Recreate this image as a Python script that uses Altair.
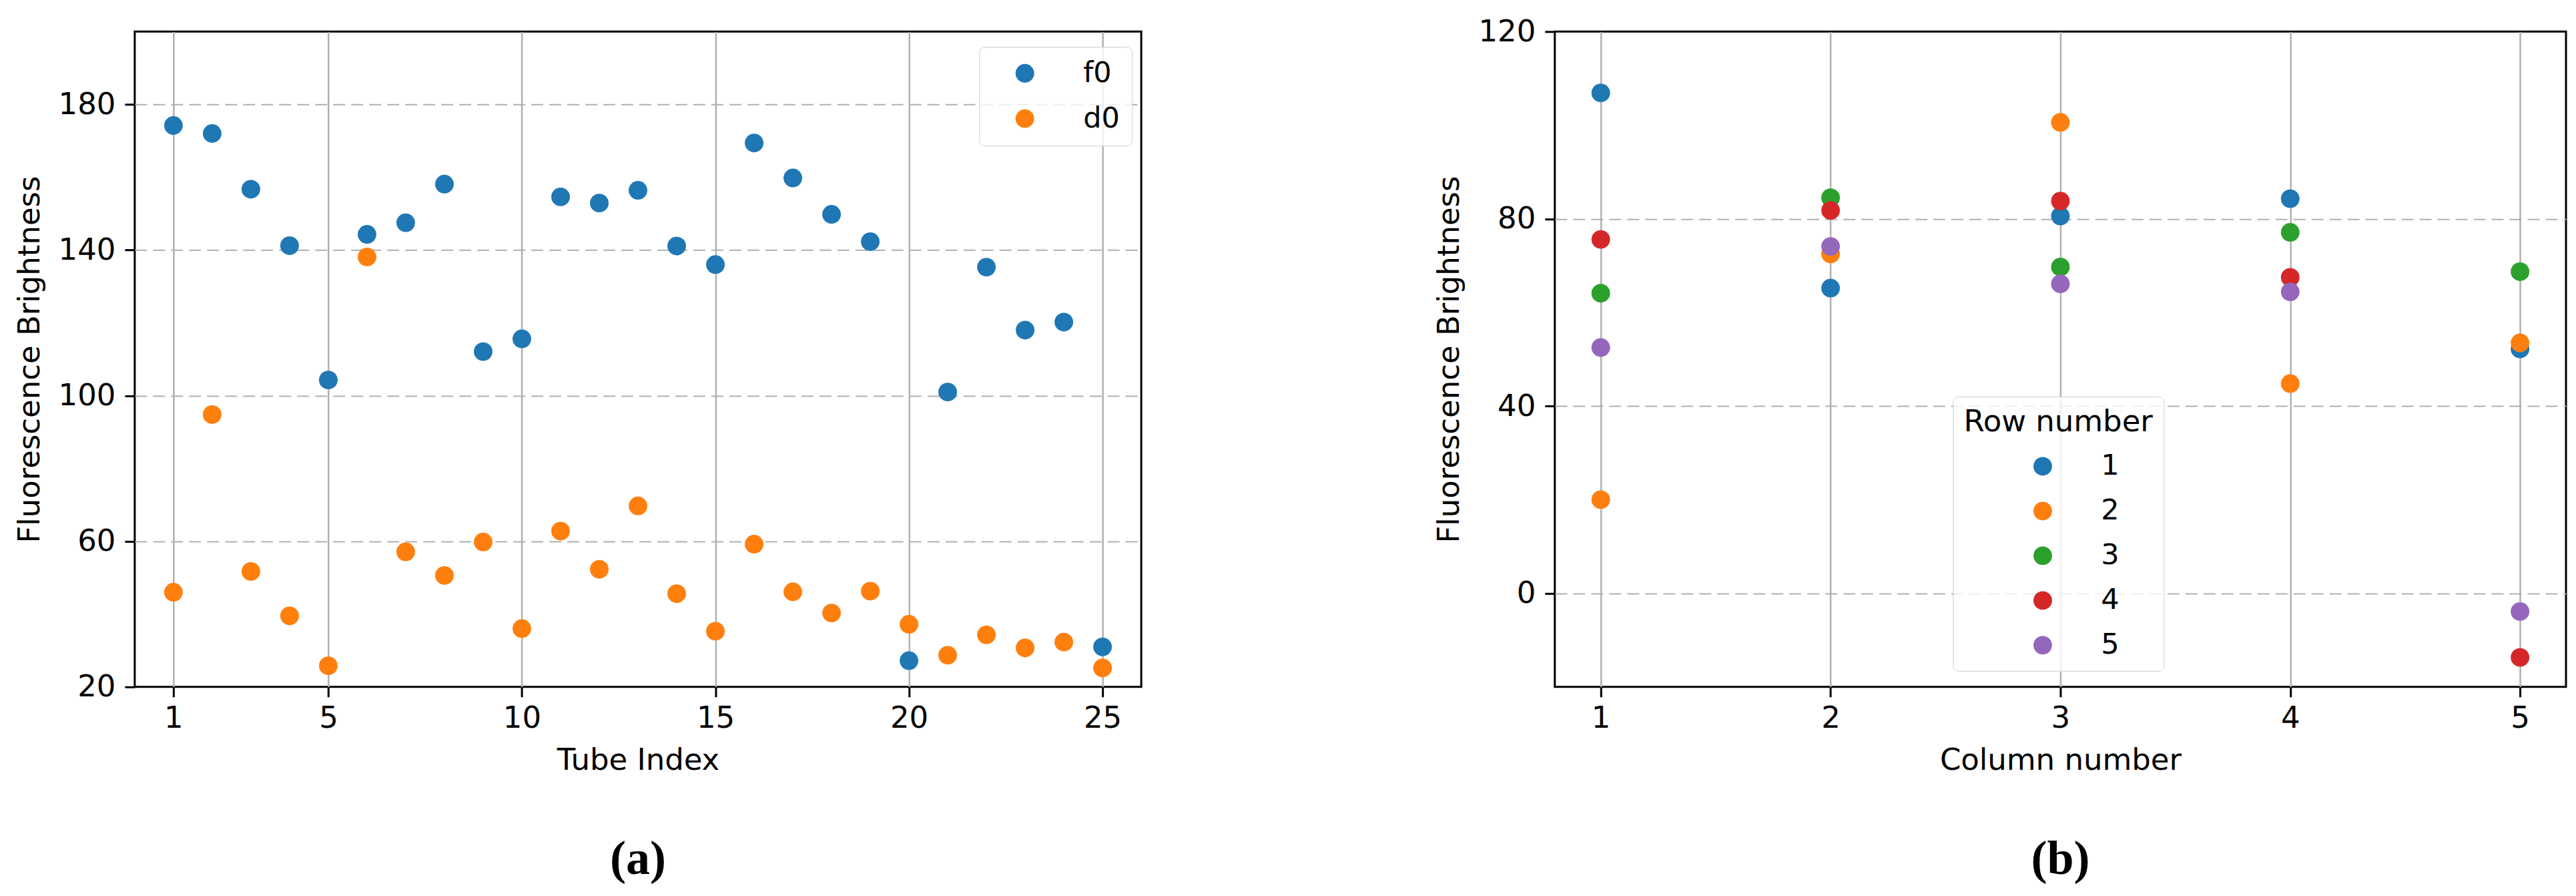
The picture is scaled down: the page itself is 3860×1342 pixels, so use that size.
import altair as alt
import pandas as pd

# ---------------- data ----------------
tube_index = list(range(1, 26))
f0 = [174.2, 172.0, 156.7, 141.2, 104.3, 144.3, 147.5, 158.1, 112.1, 115.6,
      154.6, 152.9, 156.4, 141.1, 136.0, 169.4, 159.8, 149.8, 142.3, 27.2,
      101.0, 135.3, 118.0, 120.2, 31.0]
d0 = [46.0, 94.8, 51.7, 39.5, 25.8, 138.1, 57.1, 50.6, 59.8, 36.0,
      62.8, 52.3, 69.7, 45.6, 35.3, 59.2, 46.1, 40.3, 46.3, 37.2,
      28.7, 34.3, 30.7, 32.3, 25.2]

columns = [1, 2, 3, 4, 5]
row1 = [106.9, 65.2, 80.6, 84.3, 52.2]
row2 = [20.0, 72.5, 100.6, 44.8, 53.5]
row3 = [64.1, 84.5, 69.7, 77.1, 68.7]
row4 = [75.6, 81.8, 83.8, 67.5, -13.7]
row5 = [52.5, 74.1, 66.1, 64.4, -3.9]

left_ticks_x = [1, 5, 10, 15, 20, 25]
left_ticks_y = [20, 60, 100, 140, 180]
right_ticks_x = [1, 2, 3, 4, 5]
right_ticks_y = [0, 40, 80, 120]

series_names = ["f0", "d0"]
row_names = [1, 2, 3, 4, 5]
tab10 = ["#1f77b4", "#ff7f0e", "#2ca02c", "#d62728", "#9467bd"]

# ---------------- tables ----------------
left_df = pd.DataFrame({
    "Tube Index": tube_index + tube_index,
    "Fluorescence Brightness": f0 + d0,
    "series": ["f0"] * len(f0) + ["d0"] * len(d0),
})

rows = [row1, row2, row3, row4, row5]
rec = []
for r, vals in zip(row_names, rows):
    for c, v in zip(columns, vals):
        rec.append({"Column number": c, "Fluorescence Brightness": v, "Row number": r})
right_df = pd.DataFrame(rec)

FONT = "DejaVu Sans"
GRID = "#b0b0b0"
FS = 45
DOT = 780


def x_axis(title, values):
    return alt.Axis(title=title, values=values, grid=True, gridColor=GRID, gridWidth=2.5,
                    domain=False, tickColor="black", tickWidth=3, tickSize=15,
                    labelFont=FONT, labelFontSize=FS, labelColor="black", labelPadding=10,
                    labelFlush=False,
                    titleFont=FONT, titleFontSize=FS, titleFontWeight="normal",
                    titleColor="black", titlePadding=18)


def y_axis(title, values, lo, hi):
    return alt.Axis(title=title, values=values, grid=True, gridColor=GRID, gridWidth=2,
                    gridDash=[18, 9],
                    gridOpacity={"condition": {"test": f"datum.value <= {lo} || datum.value >= {hi}",
                                               "value": 0}, "value": 1},
                    domain=False, tickColor="black", tickWidth=3,
                    tickSize=15, labelFont=FONT, labelFontSize=FS, labelColor="black",
                    labelPadding=14, labelFlush=False,
                    titleFont=FONT, titleFontSize=FS, titleFontWeight="normal",
                    titleColor="black", titlePadding=20)


left = alt.Chart(left_df).mark_circle(size=DOT, opacity=1).encode(
    x=alt.X("Tube Index:Q", scale=alt.Scale(domain=[0, 26], nice=False, zero=False),
            axis=x_axis("Tube Index", left_ticks_x)),
    y=alt.Y("Fluorescence Brightness:Q", scale=alt.Scale(domain=[20, 200], nice=False, zero=False),
            axis=y_axis("Fluorescence Brightness", left_ticks_y, 20, 200)),
    color=alt.Color("series:N", scale=alt.Scale(domain=series_names, range=tab10[:2]),
                    sort=series_names,
                    legend=alt.Legend(title=None, orient="none", legendX=1266, legendY=23,
                                      symbolType="circle", symbolSize=DOT, symbolStrokeWidth=0,
                                      labelFont=FONT, labelFontSize=43, labelColor="black",
                                      labelOffset=66, symbolOffset=29, rowPadding=24,
                                      padding=18, strokeColor="#d0d0d0",
                                      fillColor="rgba(255,255,255,0.8)", cornerRadius=8)),
    order=alt.Order("series:N", sort="descending"),
).properties(
    width=1509, height=982,
    title=alt.TitleParams(text="(a)", orient="bottom", font="Liberation Serif", fontSize=72,
                          fontWeight="bold", color="black", anchor="middle", offset=90),
)

right = alt.Chart(right_df).mark_circle(size=DOT, opacity=1).encode(
    x=alt.X("Column number:Q", scale=alt.Scale(domain=[0.8, 5.2], nice=False, zero=False),
            axis=x_axis("Column number", right_ticks_x)),
    y=alt.Y("Fluorescence Brightness:Q", scale=alt.Scale(domain=[-20, 120], nice=False, zero=False),
            axis=y_axis("Fluorescence Brightness", right_ticks_y, -20, 120)),
    color=alt.Color("Row number:N", scale=alt.Scale(domain=row_names, range=tab10),
                    legend=alt.Legend(title="Row number", orient="none", legendX=597, legendY=547,
                                      titleFont=FONT, titleFontSize=FS, titleFontWeight="normal",
                                      titleColor="black", titlePadding=22, titleLimit=600,
                                      symbolType="circle", symbolSize=DOT, symbolStrokeWidth=0,
                                      labelFont=FONT, labelFontSize=43, labelColor="black",
                                      labelOffset=66, symbolOffset=97, rowPadding=23,
                                      padding=16, strokeColor="#d0d0d0",
                                      fillColor="rgba(255,255,255,0.8)", cornerRadius=8)),
    order=alt.Order("Row number:Q"),
).properties(
    width=1516, height=982,
    title=alt.TitleParams(text="(b)", orient="bottom", font="Liberation Serif", fontSize=72,
                          fontWeight="bold", color="black", anchor="middle", offset=90),
)

chart = alt.hconcat(left, right, spacing=436).resolve_scale(
    color="independent", x="independent", y="independent"
).resolve_legend(color="independent").configure_view(
    stroke="black", strokeWidth=3
).properties(
    padding={"left": 12, "top": 15, "right": 5, "bottom": 5},
    background="white",
)

chart.save("out.html", embed_options={"renderer": "svg", "actions": False})
